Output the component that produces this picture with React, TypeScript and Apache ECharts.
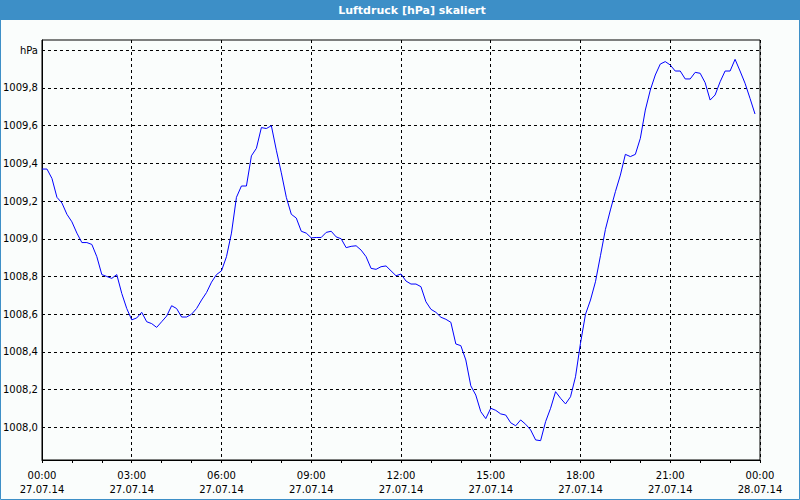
import React, { useEffect, useRef } from "react";
import * as echarts from "echarts";

const chartTitle = "Luftdruck [hPa] skaliert";
const stepMinutes = 10;
const xTickLabels = [
  "00:00\n27.07.14",
  "03:00\n27.07.14",
  "06:00\n27.07.14",
  "09:00\n27.07.14",
  "12:00\n27.07.14",
  "15:00\n27.07.14",
  "18:00\n27.07.14",
  "21:00\n27.07.14",
  "00:00\n28.07.14",
];
const yTicks = [1008.0, 1008.2, 1008.4, 1008.6, 1008.8, 1009.0, 1009.2, 1009.4, 1009.6, 1009.8, 1010.0];
const yUnit = "hPa";

const pressure = [
  1009.37, 1009.37, 1009.32, 1009.22, 1009.19, 1009.13, 1009.09, 1009.03, 1008.98, 1008.98,
  1008.97, 1008.905, 1008.81, 1008.8, 1008.79, 1008.81, 1008.71, 1008.63, 1008.57, 1008.58,
  1008.61, 1008.56, 1008.55, 1008.53, 1008.56, 1008.59, 1008.645, 1008.63, 1008.585, 1008.585,
  1008.6, 1008.63, 1008.675, 1008.715, 1008.77, 1008.81, 1008.83, 1008.905, 1009.03, 1009.22,
  1009.28, 1009.28, 1009.44, 1009.48, 1009.59, 1009.585, 1009.6, 1009.47, 1009.35, 1009.22,
  1009.13, 1009.11, 1009.04, 1009.03, 1009.005, 1009.007, 1009.007, 1009.034, 1009.04, 1009.01,
  1009.0, 1008.953, 1008.96, 1008.963, 1008.94, 1008.905, 1008.843, 1008.838, 1008.852, 1008.856,
  1008.83, 1008.804, 1008.813, 1008.776, 1008.76, 1008.76, 1008.746, 1008.666, 1008.626, 1008.61,
  1008.584, 1008.573, 1008.557, 1008.442, 1008.433, 1008.357, 1008.22, 1008.171, 1008.083, 1008.046,
  1008.101, 1008.09, 1008.071, 1008.065, 1008.024, 1008.008, 1008.039, 1008.016, 1007.986, 1007.933,
  1007.929, 1008.03, 1008.101, 1008.189, 1008.154, 1008.124, 1008.162, 1008.268, 1008.446, 1008.599,
  1008.675, 1008.772, 1008.91, 1009.05, 1009.153, 1009.25, 1009.338, 1009.448, 1009.436, 1009.448,
  1009.533, 1009.683, 1009.789, 1009.869, 1009.927, 1009.94, 1009.922, 1009.89, 1009.89, 1009.848,
  1009.848, 1009.883, 1009.878, 1009.828, 1009.736, 1009.763, 1009.833, 1009.89, 1009.89, 1009.952,
  1009.89, 1009.825, 1009.745, 1009.662,
];

const FONT = "DejaVu Sans";

export default function App() {
  const ref = useRef<HTMLDivElement>(null);
  useEffect(() => {
    document.body.style.margin = "0";
    if (!ref.current) return;
    const chart = echarts.init(ref.current, null, { renderer: "svg" });
    const data = pressure.map((v, i) => [(i * stepMinutes) / 60, v]);
    chart.setOption({
      animation: false,
      backgroundColor: "#fafdfc",
      textStyle: { fontFamily: FONT },
      graphic: [
        {
          type: "rect",
          shape: { x: 0, y: 0, width: 800, height: 20 },
          style: { fill: "#3d8fc7" },
          silent: true,
        },
        {
          type: "rect",
          shape: { x: 0.5, y: 0.5, width: 799, height: 499 },
          style: { fill: "none", stroke: "#3d8fc7", lineWidth: 1 },
          silent: true,
        },
        {
          type: "text",
          x: 412,
          y: 10,
          style: {
            text: chartTitle,
            fill: "#ffffff",
            font: `bold 11px "${FONT}"`,
            align: "center",
            verticalAlign: "middle",
          },
          silent: true,
        },
      ],
      grid: {
        left: 40,
        right: 40,
        top: 40,
        bottom: 40,
        show: true,
        borderColor: "#000",
        borderWidth: 1,
        backgroundColor: "transparent",
      },
      xAxis: {
        type: "value",
        min: 0,
        max: 24,
        interval: 3,
        axisLine: { show: true, lineStyle: { color: "#000", width: 1 } },
        axisTick: { show: true, length: 3, lineStyle: { color: "#000" } },
        minorTick: { show: true, splitNumber: 3, length: 3, lineStyle: { color: "#000" } },
        splitLine: { show: true, lineStyle: { color: "#000", type: [3, 3], width: 1 } },
        axisLabel: {
          color: "#000",
          fontSize: 10,
          fontFamily: FONT,
          lineHeight: 14,
          margin: 8,
          formatter: (v: number) => xTickLabels[Math.round(v / 3)] ?? "",
        },
      },
      yAxis: {
        type: "value",
        min: 1007.8265,
        max: 1010.0546,
        axisLine: { show: true, lineStyle: { color: "#000", width: 1 } },
        axisTick: { show: false, customValues: yTicks },
        splitLine: { show: true, lineStyle: { color: "#000", type: [3, 3], width: 1 } },
        axisLabel: {
          customValues: yTicks,
          color: "#000",
          fontSize: 10,
          fontFamily: FONT,
          margin: 4,
          formatter: (v: number) =>
            Math.abs(v - 1010) < 1e-6 ? yUnit : v.toFixed(1).replace(".", ","),
        },
      },
      series: [
        {
          type: "line",
          data,
          showSymbol: false,
          symbol: "none",
          lineStyle: { color: "#0000ff", width: 1 },
          z: 5,
        },
      ],
    });
    return () => chart.dispose();
  }, []);
  return (
    <div
      ref={ref}
      style={{ position: "absolute", left: 0, top: 0, width: 800, height: 500 }}
    />
  );
}
